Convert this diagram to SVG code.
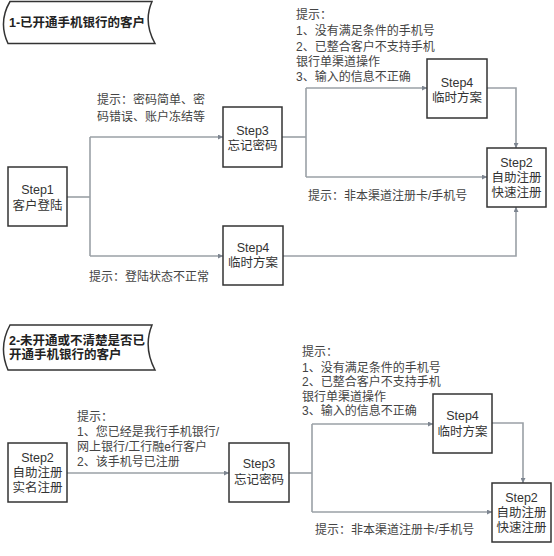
<svg xmlns="http://www.w3.org/2000/svg" width="554" height="556" viewBox="0 0 554 556">
<defs>
<marker id="arr" viewBox="0 0 8 8" refX="8" refY="4" markerWidth="5" markerHeight="5" orient="auto" markerUnits="userSpaceOnUse">
<path d="M0,0 L8,4 L0,8 Z" fill="#7d8590"/>
</marker>
<style>
.box{fill:#fff;stroke:#333;stroke-width:1.5}
.banner{fill:#fff;stroke:#333;stroke-width:1.5}
.nt{font-family:"Liberation Sans","Noto Sans CJK SC",sans-serif;font-size:12.5px;fill:#333;text-anchor:middle}
.bt{font-family:"Liberation Sans","Noto Sans CJK SC",sans-serif;font-size:12.5px;font-weight:bold;fill:#222}
.lb{font-family:"Liberation Sans","Noto Sans CJK SC",sans-serif;font-size:12px;fill:#444}
.cn{fill:none;stroke:#9aa0a6;stroke-width:1.6}
.ca{fill:none;stroke:#9aa0a6;stroke-width:1.6;marker-end:url(#arr)}
</style>
</defs>
<rect width="554" height="556" fill="#fff"/>

<g id="banner1">
<path class="banner" d="M10,1.5 H152 Q143,22 155,43.5 H8 Q-2,22 10,1.5 Z"/>
<text class="bt" x="9" y="27">1-已开通手机银行的客户</text>
</g>

<g id="banner2">
<path class="banner" d="M10,325 H152 Q143,347 155,370 H8 Q-2,347 10,325 Z"/>
<text class="bt" x="9" y="344.5">2-未开通或不清楚是否已</text>
<text class="bt" x="9" y="359">开通手机银行的客户</text>
</g>

<g id="connectors">
<path class="cn" d="M67,197 H90"/>
<path class="cn" d="M90,137 V256"/>
<path class="ca" d="M90,137 H223"/>
<path class="ca" d="M90,256 H223"/>
<path class="cn" d="M282,137 H306"/>
<path class="cn" d="M306,88 V177"/>
<path class="ca" d="M306,88 H427"/>
<path class="ca" d="M306,177 H487"/>
<path class="ca" d="M487,88 H516 V148"/>
<path class="ca" d="M283,256 H516 V207"/>

<path class="ca" d="M67,473 H229"/>
<path class="cn" d="M289,473 H312"/>
<path class="cn" d="M312,424 V512"/>
<path class="ca" d="M312,424 H433"/>
<path class="ca" d="M312,512 H492"/>
<path class="ca" d="M492,423 H523 V483"/>
</g>

<g id="s1-step1">
<rect class="box" x="8" y="167" width="59" height="59"/>
<text class="nt" x="37.5" y="193.5">Step1</text>
<text class="nt" x="37.5" y="209.5">客户登陆</text>
</g>
<g id="s1-step3">
<rect class="box" x="223" y="107" width="59" height="60"/>
<text class="nt" x="252.5" y="134.5">Step3</text>
<text class="nt" x="252.5" y="150">忘记密码</text>
</g>
<g id="s1-step4-low">
<rect class="box" x="223" y="226" width="60" height="59"/>
<text class="nt" x="253" y="251.5">Step4</text>
<text class="nt" x="253" y="267">临时方案</text>
</g>
<g id="s1-step4-up">
<rect class="box" x="427" y="59" width="60" height="59"/>
<text class="nt" x="457" y="86.5">Step4</text>
<text class="nt" x="457" y="102">临时方案</text>
</g>
<g id="s1-step2">
<rect class="box" x="487" y="148" width="59" height="59"/>
<text class="nt" x="516.5" y="166.5">Step2</text>
<text class="nt" x="516.5" y="182">自助注册</text>
<text class="nt" x="516.5" y="197">快速注册</text>
</g>

<g id="s1-labels">
<text class="lb" x="97" y="104">提示：密码简单、密</text>
<text class="lb" x="97" y="121">码错误、账户冻结等</text>
<text class="lb" x="296" y="19">提示：</text>
<text class="lb" x="296" y="35">1、没有满足条件的手机号</text>
<text class="lb" x="296" y="51">2、已整合客户不支持手机</text>
<text class="lb" x="296" y="66">银行单渠道操作</text>
<text class="lb" x="296" y="81">3、输入的信息不正确</text>
<text class="lb" x="308" y="200">提示：非本渠道注册卡/手机号</text>
<text class="lb" x="89" y="281">提示：登陆状态不正常</text>
</g>

<g id="s2-step2">
<rect class="box" x="8" y="443" width="59" height="59"/>
<text class="nt" x="37.5" y="461.5">Step2</text>
<text class="nt" x="37.5" y="477">自助注册</text>
<text class="nt" x="37.5" y="492">实名注册</text>
</g>
<g id="s2-step3">
<rect class="box" x="229" y="443" width="60" height="59"/>
<text class="nt" x="259" y="467.5">Step3</text>
<text class="nt" x="259" y="484">忘记密码</text>
</g>
<g id="s2-step4">
<rect class="box" x="433" y="394" width="59" height="59"/>
<text class="nt" x="462.5" y="419.5">Step4</text>
<text class="nt" x="462.5" y="436">临时方案</text>
</g>
<g id="s2-step2b">
<rect class="box" x="492" y="483" width="59" height="59"/>
<text class="nt" x="521.5" y="501.5">Step2</text>
<text class="nt" x="521.5" y="517">自助注册</text>
<text class="nt" x="521.5" y="532">快速注册</text>
</g>

<g id="s2-labels">
<text class="lb" x="77" y="421">提示：</text>
<text class="lb" x="77" y="436">1、您已经是我行手机银行/</text>
<text class="lb" x="77" y="450.5">网上银行/工行融e行客户</text>
<text class="lb" x="77" y="466">2、该手机号已注册</text>
<text class="lb" x="302" y="356">提示：</text>
<text class="lb" x="302" y="371.5">1、没有满足条件的手机号</text>
<text class="lb" x="302" y="386">2、已整合客户不支持手机</text>
<text class="lb" x="302" y="400.5">银行单渠道操作</text>
<text class="lb" x="302" y="415">3、输入的信息不正确</text>
<text class="lb" x="315" y="534">提示：非本渠道注册卡/手机号</text>
</g>
</svg>
